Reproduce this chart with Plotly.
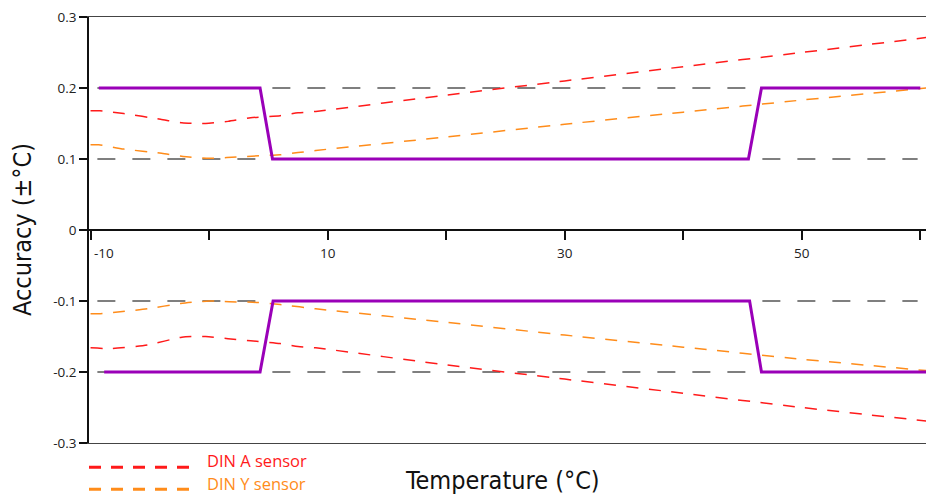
import plotly.graph_objects as go

# ---------------- data ----------------
# DIN A sensor tolerance band (upper / lower)
din_a_up_t = [-10, -9.2, -7.2, -4.1, -2.3, -0.3, 1.6, 3.5, 6.0, 7.5, 9.0, 20, 30, 40, 50, 60.5]
din_a_up_v = [0.168, 0.168, 0.164, 0.156, 0.151, 0.150, 0.153, 0.158, 0.161, 0.165, 0.167, 0.190, 0.210, 0.230, 0.250, 0.271]
din_a_lo_t = [-10, -8.2, -5.2, -2.3, -0.3, 1.6, 3.5, 6.0, 7.5, 9.0, 20, 30, 40, 50, 60.5]
din_a_lo_v = [-0.166, -0.167, -0.162, -0.151, -0.150, -0.153, -0.156, -0.160, -0.164, -0.166, -0.190, -0.210, -0.230, -0.250, -0.269]

# DIN Y sensor tolerance band
din_y_up_t = [-10, -9.3, -7.2, -4.0, -2.2, 0, 1.5, 3.6, 6.0, 7.5, 9.0, 20, 30, 40, 50, 60.5]
din_y_up_v = [0.120, 0.120, 0.114, 0.108, 0.1035, 0.101, 0.102, 0.104, 0.106, 0.109, 0.112, 0.131, 0.149, 0.166, 0.183, 0.200]
din_y_lo_t = [-10, -9.3, -7.5, -5.2, -2.4, 0, 1.7, 4.0, 6.0, 9.0, 20, 30, 40, 50, 60.5]
din_y_lo_v = [-0.118, -0.118, -0.115, -0.111, -0.1035, -0.100, -0.101, -0.102, -0.105, -0.111, -0.130, -0.148, -0.165, -0.182, -0.198]

# Product accuracy (purple)
acc_up_t = [-9.3, 4.3, 5.35, 45.5, 46.6, 60]
acc_up_v = [0.2, 0.2, 0.1, 0.1, 0.2, 0.2]
acc_lo_t = [-8.85, 4.3, 5.4, 45.6, 46.6, 60.5]
acc_lo_v = [-0.2, -0.2, -0.1, -0.1, -0.2, -0.2]

grid_levels = [-0.2, -0.1, 0.1, 0.2]
x_tick_vals = [-10, 0, 10, 20, 30, 40, 50, 60]
x_label_vals = [-10, 10, 30, 50]
x_label_text = ["-10", "10", "30", "50"]
y_tick_vals = [-0.3, -0.2, -0.1, 0, 0.1, 0.2, 0.3]
y_tick_text = ["-0.3", "-0.2", "-0.1", "0", "0.1", "0.2", "0.3"]
legend_names = ["DIN A sensor", "DIN Y sensor"]

# ---------------- style ----------------
RED = "#ff1a1a"
ORANGE = "#ff8c1a"
PURPLE = "#9a00b8"
TICK_FONT = dict(family="Open Sans, DejaVu Sans, sans-serif", size=13.5, color="#222")
TITLE_FONT = dict(family="Liberation Sans Narrow, DejaVu Sans Condensed, Roboto Condensed, Roboto, sans-serif",
                  size=25, color="#111")
XRANGE = [-10.13, 60.48]

fig = go.Figure()

def dashed(t, v, color):
    fig.add_trace(go.Scatter(x=t, y=v, mode="lines", showlegend=False, hoverinfo="skip",
                             line=dict(color=color, width=1.5, dash="12px,10.5px",
                                       shape="spline", smoothing=0.6)))

dashed(din_a_up_t, din_a_up_v, RED)
dashed(din_a_lo_t, din_a_lo_v, RED)
dashed(din_y_up_t, din_y_up_v, ORANGE)
dashed(din_y_lo_t, din_y_lo_v, ORANGE)

for t, v in [(acc_up_t, acc_up_v), (acc_lo_t, acc_lo_v)]:
    fig.add_trace(go.Scatter(x=t, y=v, mode="lines", showlegend=False, hoverinfo="skip",
                             xaxis="x2", line=dict(color=PURPLE, width=3)))

# dashed reference grid lines
for g in grid_levels:
    fig.add_shape(type="line", xref="paper", yref="y", x0=0.01, x1=0.99, y0=g, y1=g,
                  line=dict(color="#000", width=1.2, dash="18px,17px"), layer="below")

# x tick labels below the centre axis
for val, txt in zip(x_label_vals, x_label_text):
    first = val == x_label_vals[0]
    fig.add_annotation(x=val, y=0.446, xref="x", yref="paper", text=txt, showarrow=False,
                       xanchor="left" if first else "center", yanchor="middle",
                       xshift=1 if first else 0, font=TICK_FONT)

# axis titles
fig.add_annotation(x=0.4935, y=-0.089, xref="paper", yref="paper", text="Temperature (°C)",
                   showarrow=False, xanchor="center", yanchor="middle", font=TITLE_FONT)
fig.add_annotation(x=-0.080, y=0.5, xref="paper", yref="paper", text="Accuracy (±°C)",
                   showarrow=False, textangle=-90, xanchor="center", yanchor="middle", font=TITLE_FONT)

# manual legend
for name, color, ly, ty in [(legend_names[0], RED, -0.057, -0.040), (legend_names[1], ORANGE, -0.1087, -0.094)]:
    fig.add_shape(type="line", xref="paper", yref="paper", x0=0.0, x1=0.1207, y0=ly, y1=ly,
                  line=dict(color=color, width=3, dash="12px,10px"))
    fig.add_annotation(x=0.1386, y=ty, xref="paper", yref="paper", text=name, showarrow=False,
                       xanchor="left", yanchor="middle",
                       font=dict(family="Open Sans, DejaVu Sans, sans-serif", size=16.5, color=color))

fig.update_layout(
    width=926, height=495,
    margin=dict(l=89, r=0, t=17, b=52),
    paper_bgcolor="white", plot_bgcolor="white",
    showlegend=False,
    xaxis=dict(range=XRANGE, showline=True, linecolor="#444", linewidth=1.2, mirror=True,
               ticks="", showticklabels=False, showgrid=False, zeroline=False),
    xaxis2=dict(range=XRANGE, overlaying="x", anchor="free", position=0.5, side="bottom",
                showline=True, linecolor="#111", linewidth=1.5, ticks="outside", ticklen=9,
                tickwidth=1.5, tickcolor="#111", tickvals=x_tick_vals, showticklabels=False,
                showgrid=False, zeroline=False),
    yaxis=dict(range=[-0.3, 0.3], showline=True, linecolor="#111", linewidth=1.5,
               ticks="outside", ticklen=8, tickwidth=1.5, tickcolor="#111",
               tickvals=y_tick_vals, ticktext=y_tick_text, tickfont=TICK_FONT,
               showgrid=False, zeroline=False),
)

fig.write_html("out.html", config={"displayModeBar": False},
               post_script="document.body.style.margin='0';document.body.style.overflow='hidden';")
